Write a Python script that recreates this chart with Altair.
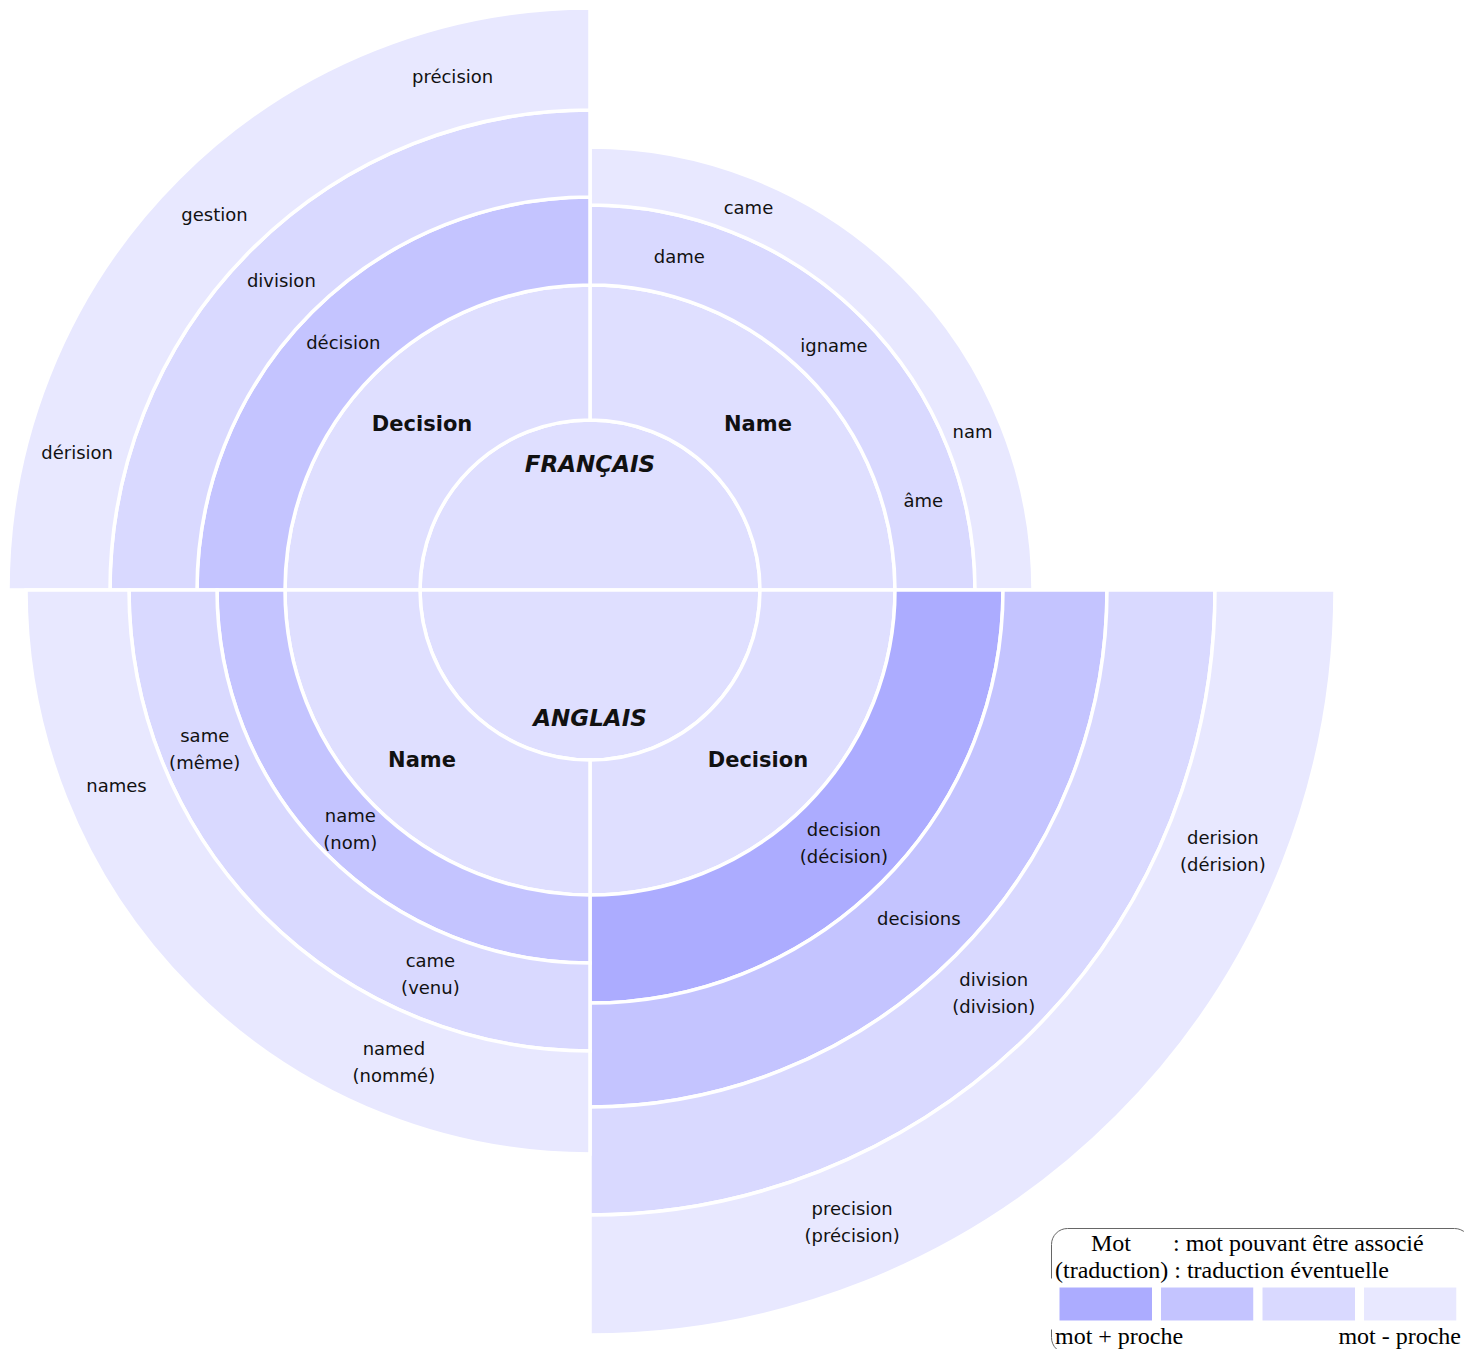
import math
import pandas as pd
import altair as alt

# ---------------- Données ----------------
# Centre : langues (disque intérieur) et mots source (premier anneau)
centre_nom    = ["FRANÇAIS", "ANGLAIS", "Name", "Decision", "Decision", "Name"]
centre_type   = ["langue", "langue", "mot", "mot", "mot", "mot"]
centre_debut  = [270, 90, 0, 270, 90, 180]
centre_fin    = [450, 270, 90, 360, 180, 270]
centre_r_int  = [0, 0, 170, 170, 170, 170]
centre_r_ext  = [170, 170, 305, 305, 305, 305]
centre_r_lab  = [126, 128, 237.5, 237.5, 237.5, 237.5]

# Anneaux de mots associés (niveau 1 = mot + proche, 4 = mot - proche)
anneau_id     = ["FR-N3", "FR-N4", "FR-D3", "FR-D4", "FR-D5",
                 "EN-D3", "EN-D4", "EN-D5", "EN-D6",
                 "EN-N3", "EN-N4", "EN-N5"]
anneau_debut  = [0, 0, 270, 270, 270, 90, 90, 90, 90, 180, 180, 180]
anneau_fin    = [90, 90, 360, 360, 360, 180, 180, 180, 180, 270, 270, 270]
anneau_r_int  = [305, 385, 305, 393, 480, 305, 413, 517, 625, 305, 373, 461]
anneau_r_ext  = [385, 443, 393, 480, 582, 413, 517, 625, 745, 373, 461, 564]
anneau_niveau = [3, 4, 2, 3, 4, 1, 2, 3, 4, 2, 3, 4]

# Mots placés dans les anneaux
mot_texte  = ["came", "dame", "igname", "nam", "âme",
              "précision", "gestion", "division", "décision", "dérision",
              "same\n(même)", "names", "name\n(nom)", "came\n(venu)", "named\n(nommé)",
              "decision\n(décision)", "decisions", "division\n(division)",
              "derision\n(dérision)", "precision\n(précision)"]
mot_anneau = ["FR-N4", "FR-N3", "FR-N3", "FR-N4", "FR-N3",
              "FR-D5", "FR-D5", "FR-D4", "FR-D3", "FR-D5",
              "EN-N4", "EN-N5", "EN-N3", "EN-N4", "EN-N5",
              "EN-D3", "EN-D4", "EN-D5", "EN-D6", "EN-D6"]
mot_angle  = [22.5, 15, 45, 67.5, 75,
              345, 315, 315, 315, 285,
              247.5, 247.5, 225, 202.5, 202.5,
              135, 135, 135, 112.5, 157.5]

couleurs_niveau = ["#acacff", "#c4c4ff", "#d9d9ff", "#e8e8ff"]
bornes_legende = [0.5, 1.5, 2.5, 3.5, 4.5]

# ---------------- Tables ----------------
df_centre = pd.DataFrame({
    "nom": centre_nom, "type": centre_type, "debut": centre_debut, "fin": centre_fin,
    "r_int": centre_r_int, "r_ext": centre_r_ext, "r_lab": centre_r_lab,
})
df_centre["angle_lab"] = (df_centre["debut"] + df_centre["fin"]) / 2

df_anneaux = pd.DataFrame({
    "anneau": anneau_id, "debut": anneau_debut, "fin": anneau_fin,
    "r_int": anneau_r_int, "r_ext": anneau_r_ext, "niveau": anneau_niveau,
})

df_mots = pd.DataFrame({"mot": mot_texte, "anneau": mot_anneau, "angle": mot_angle})
df_mots = df_mots.merge(df_anneaux[["anneau", "r_int", "r_ext"]], on="anneau")
df_mots["rayon"] = (df_mots["r_int"] + df_mots["r_ext"]) / 2
df_mots["lignes"] = df_mots["mot"].str.count("\n") + 1

theta_scale = alt.Scale(domain=[0, 360], range=[0, 2 * math.pi], nice=False)
radius_scale = alt.Scale(type="linear", domain=[0, 745], range=[0, 745], zero=True, nice=False)

# centre du graphique polaire (coordonnées de la vue)
CX, CY = 582, 582

nb = "\u00a0"
legende = alt.Legend(
    type="gradient", orient="none", legendX=1043, legendY=1220, direction="horizontal",
    values=bornes_legende,
    title=["\u200b" + nb * 6 + "Mot" + nb * 7 + ": mot pouvant être associé",
           "(traduction) : traduction éventuelle"],
    titleFont="Liberation Serif", titleFontSize=24, titleFontWeight="normal",
    titleColor="black", titleLineHeight=27, titlePadding=0, titleLimit=600,
    gradientLength=406, gradientThickness=42,
    gradientStrokeColor="white", gradientStrokeWidth=9,
    labelExpr="datum.value < 1 ? 'mot + proche' : datum.value > 4 ? 'mot - proche' : ''",
    labelFont="Liberation Serif", labelFontSize=24, labelColor="black",
    labelOffset=0, labelOverlap=False, labelLimit=300,
    strokeColor="#666666", cornerRadius=16, padding=4, fillColor="white",
)

polaire = dict(x=alt.value(CX), y=alt.value(CY))

centre_arcs = alt.Chart(df_centre).mark_arc(
    fill="#dfdfff", stroke="white", strokeWidth=3.5
).encode(
    theta=alt.Theta("debut:Q", scale=theta_scale, stack=False),
    theta2=alt.Theta2("fin:Q"),
    radius=alt.Radius("r_ext:Q", scale=radius_scale),
    radius2=alt.Radius2("r_int:Q"),
    **polaire,
)

anneaux = alt.Chart(df_anneaux).mark_arc(
    stroke="white", strokeWidth=3.5
).encode(
    theta=alt.Theta("debut:Q", scale=theta_scale, stack=False),
    theta2=alt.Theta2("fin:Q"),
    radius=alt.Radius("r_ext:Q", scale=radius_scale),
    radius2=alt.Radius2("r_int:Q"),
    color=alt.Color("niveau:Q",
                    scale=alt.Scale(type="quantize", domain=[0.5, 4.5], range=couleurs_niveau),
                    legend=legende),
    **polaire,
)

def couche_mots(nb_lignes, decalage):
    return alt.Chart(df_mots).transform_filter(
        alt.datum.lignes == nb_lignes
    ).mark_text(
        font="DejaVu Sans", fontSize=18, color="#111111", lineBreak="\n", lineHeight=27,
        align="center", baseline="middle", dy=decalage
    ).encode(
        theta=alt.Theta("angle:Q", scale=theta_scale, stack=False),
        radius=alt.Radius("rayon:Q", scale=radius_scale),
        text="mot:N",
        **polaire,
    )

mots_1 = couche_mots(1, 1)
mots_2 = couche_mots(2, -13)

groupes = alt.Chart(df_centre).transform_filter(
    alt.datum.type == "mot"
).mark_text(
    font="DejaVu Sans", fontSize=21, fontWeight="bold", color="#111111",
    align="center", baseline="middle", dy=3
).encode(
    theta=alt.Theta("angle_lab:Q", scale=theta_scale, stack=False),
    radius=alt.Radius("r_lab:Q", scale=radius_scale),
    text="nom:N",
    **polaire,
)

langues = alt.Chart(df_centre).transform_filter(
    alt.datum.type == "langue"
).mark_text(
    font="DejaVu Sans", fontSize=23, fontWeight="bold", fontStyle="italic", color="#111111",
    align="center", baseline="middle", dy=1
).encode(
    theta=alt.Theta("angle_lab:Q", scale=theta_scale, stack=False),
    radius=alt.Radius("r_lab:Q", scale=radius_scale),
    text="nom:N",
    **polaire,
)

chart = alt.layer(centre_arcs, anneaux, mots_1, mots_2, groupes, langues).properties(
    width=1456, height=1341, padding=0,
    autosize=alt.AutoSizeParams(type="none"),
).configure_view(stroke=None)

chart.save("out.html", embed_options={"renderer": "svg", "actions": False})
